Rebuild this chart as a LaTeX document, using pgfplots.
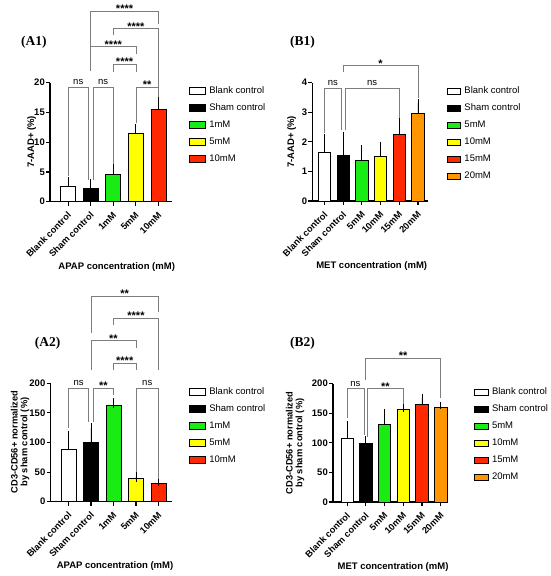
\documentclass[border=0pt]{standalone}
\usepackage{fontspec}
\setmainfont{Liberation Sans}
\newfontfamily\serifb{Liberation Serif}
\usepackage{pgfplots}
\pgfplotsset{compat=1.18}
\definecolor{cgreen}{RGB}{25,235,20}
\definecolor{cyellow}{RGB}{255,255,0}
\definecolor{cred}{RGB}{255,40,0}
\definecolor{corange}{RGB}{255,150,0}
\definecolor{brgray}{RGB}{125,125,125}
\newcommand{\fs}[1]{\fontsize{#1}{#1}\selectfont}
\tikzset{
  st/.style={font=\bfseries\fs{11}, anchor=base, inner sep=0pt, yshift=-1.5pt},
  nsl/.style={font=\fs{9.5}, anchor=base, inner sep=0pt, yshift=2.5pt},
  plab/.style={font=\serifb\bfseries\fs{13.5}, anchor=west, inner sep=0pt},
}
\pgfplotsset{
  panel/.style={
    scale only axis, clip=false,
    axis x line*=bottom, axis y line*=left,
    axis line style={line width=1.3pt},
    every tick/.style={black, line width=1.1pt},
    tick align=outside, major tick length=4pt,
    ymin=0,
    /pgf/number format/assume math mode=true,
    yticklabel style={font=\bfseries\fs{9.5}, inner sep=1pt},
    xticklabel style={yshift=-8pt, xshift=1.5pt, rotate=45, anchor=east, inner sep=0pt, font=\bfseries\fs{9.2}},
    legend cell align=left,
    legend style={at={(1,1)}, anchor=north west, draw=none, fill=none,
      font=\fs{9.5}, row sep=5pt, column sep=2pt,
      nodes={inner sep=1.5pt, text height=7pt, text depth=2pt}},
  },
  bar/.style={ybar, bar shift=0pt, draw=black, line width=0.7pt,
    error bars/y dir=plus, error bars/y explicit,
    error bars/error bar style={line width=0.9pt, black},
    error bars/error mark options={line width=0.9pt, mark size=#1, black}},
  bar/.default=4.7pt,
  br/.style={forget plot, brgray, line width=0.7pt, mark=none},
}
\begin{document}
\begin{tikzpicture}
\useasboundingbox (0pt,0pt) rectangle (550pt,-576pt);

% ---------------- A1 ----------------
\begin{axis}[panel, at={(50pt,-82.7pt)}, anchor=north west,
  width=122pt, height=119pt, xmin=-0.8, xmax=4.6, ymax=20,
  ytick={0,5,10,15,20}, xtick={0,1,2,3,4},
  xticklabels={Blank control, Sham control, 1mM, 5mM, 10mM},
  bar width=15pt, legend style={xshift=14pt},
  legend image code/.code={\draw[#1, line width=0.6pt] (0pt,-3.5pt) rectangle (16pt,3.5pt);},
  legend entries={Blank control, Sham control, 1mM, 5mM, 10mM}]
\addplot[bar, fill=white] coordinates {(0,2.6) +- (0,0.8)};
\addplot[bar, fill=black] coordinates {(1,2.3) +- (0,0.65)};
\addplot[bar, fill=cgreen] coordinates {(2,4.6) +- (0,1.0)};
\addplot[bar, fill=cyellow] coordinates {(3,11.45) +- (0,0.9)};
\addplot[bar, fill=cred] coordinates {(4,15.45) +- (0,1.4)};
\addplot[br] coordinates {(0,4.4) (0,19.2) (0.9,19.2) (0.9,3.7)};
\addplot[br] coordinates {(1.1,3.7) (1.1,19.2) (2,19.2) (2,6.4)};
\addplot[br] coordinates {(3,13.3) (3,19.2) (4,19.2) (4,17.6)};
\addplot[br] coordinates {(2,21.85) (2,23.1) (3,23.1) (3,21.85)};
\addplot[br] coordinates {(1,22.0) (1,26.05) (3,26.05) (3,24.9)};
\addplot[br] coordinates {(2,28.0) (2,29.1) (4,29.1) (4,17.6)};
\addplot[br] coordinates {(1,22.0) (1,32.05) (4,32.05) (4,29.9)};
\node[nsl] at (axis cs:0.45,19.2) {ns};
\node[nsl] at (axis cs:1.55,19.2) {ns};
\node[st] at (axis cs:3.5,19.2) {**};
\node[st] at (axis cs:2.5,23.1) {****};
\node[st] at (axis cs:2,26.05) {****};
\node[st] at (axis cs:3,29.1) {****};
\node[st] at (axis cs:2.5,32.05) {****};
\end{axis}

% ---------------- B1 ----------------
\begin{axis}[panel, at={(312.3pt,-82.7pt)}, anchor=north west,
  width=115.4pt, height=118.3pt, xmin=-0.65, xmax=5.52, ymax=4,
  ytick={0,1,2,3,4}, xtick={0,1,2,3,4,5},
  xticklabels={Blank control, Sham control, 5mM, 10mM, 15mM, 20mM},
  bar width=12.3pt, legend style={xshift=16pt},
  legend image code/.code={\draw[#1, line width=0.6pt] (0pt,-3pt) rectangle (13.5pt,3pt);},
  legend entries={Blank control, Sham control, 5mM, 10mM, 15mM, 20mM}]
\addplot[bar=3.6pt, fill=white] coordinates {(0,1.645) +- (0,0.515)};
\addplot[bar=3.6pt, fill=black] coordinates {(1,1.54) +- (0,0.68)};
\addplot[bar=3.6pt, fill=cgreen] coordinates {(2,1.36) +- (0,0.41)};
\addplot[bar=3.6pt, fill=cyellow] coordinates {(3,1.50) +- (0,0.36)};
\addplot[bar=3.6pt, fill=cred] coordinates {(4,2.24) +- (0,0.43)};
\addplot[bar=3.6pt, fill=corange] coordinates {(5,2.96) +- (0,0.36)};
\addplot[br] coordinates {(0,2.3) (0,3.81) (0.9,3.81) (0.9,2.4)};
\addplot[br] coordinates {(1.1,2.4) (1.1,3.81) (4,3.81) (4,2.79)};
\addplot[br] coordinates {(1,4.37) (1,4.57) (5,4.57) (5,3.47)};
\node[nsl] at (axis cs:0.45,3.81) {ns};
\node[nsl] at (axis cs:2.55,3.81) {ns};
\node[st] at (axis cs:3,4.57) {*};
\end{axis}

% ---------------- A2 ----------------
\begin{axis}[panel, at={(50.5pt,-383.3pt)}, anchor=north west,
  width=121.5pt, height=118.4pt, xmin=-0.8, xmax=4.6, ymax=200,
  ytick={0,50,100,150,200}, xtick={0,1,2,3,4},
  xticklabels={Blank control, Sham control, 1mM, 5mM, 10mM},
  bar width=15pt, legend style={xshift=14pt, yshift=-0.5pt},
  legend image code/.code={\draw[#1, line width=0.6pt] (0pt,-3.5pt) rectangle (16pt,3.5pt);},
  legend entries={Blank control, Sham control, 1mM, 5mM, 10mM}]
\addplot[bar, fill=white] coordinates {(0,88.5) +- (0,23.5)};
\addplot[bar, fill=black] coordinates {(1,99.7) +- (0,24.8)};
\addplot[bar, fill=cgreen] coordinates {(2,162) +- (0,5)};
\addplot[bar, fill=cyellow] coordinates {(3,39) +- (0,3)};
\addplot[bar, fill=cred] coordinates {(4,31) +- (0,3)};
\addplot[br] coordinates {(0,124) (0,192) (0.9,192) (0.9,135)};
\addplot[br] coordinates {(1.1,135) (1.1,192) (2,192) (2,180)};
\addplot[br] coordinates {(3,50.7) (3,192) (4,192) (4,39)};
\addplot[br] coordinates {(2,222) (2,233.8) (3,233.8) (3,222)};
\addplot[br] coordinates {(1,222) (1,272) (3,272) (3,259)};
\addplot[br] coordinates {(2,298) (2,309.8) (4,309.8) (4,222)};
\addplot[br] coordinates {(1,284.8) (1,347.5) (4,347.5) (4,321)};
\node[nsl] at (axis cs:0.45,192) {ns};
\node[st] at (axis cs:1.55,192) {**};
\node[nsl] at (axis cs:3.5,192) {ns};
\node[st] at (axis cs:2.5,233.8) {****};
\node[st] at (axis cs:2,272) {**};
\node[st] at (axis cs:3,309.8) {****};
\node[st] at (axis cs:2.5,347.5) {**};
\end{axis}

% ---------------- B2 ----------------
\begin{axis}[panel, at={(333pt,-383.7pt)}, anchor=north west,
  width=113.7pt, height=118.3pt, xmin=-0.75, xmax=5.32, ymax=200,
  ytick={0,50,100,150,200}, xtick={0,1,2,3,4,5},
  xticklabels={Blank control, Sham control, 5mM, 10mM, 15mM, 20mM},
  bar width=12.3pt, legend style={xshift=24pt},
  legend image code/.code={\draw[#1, line width=0.6pt] (0pt,-3pt) rectangle (14pt,3pt);},
  legend entries={Blank control, Sham control, 5mM, 10mM, 15mM, 20mM}]
\addplot[bar=3.6pt, fill=white] coordinates {(0,108) +- (0,23)};
\addplot[bar=3.6pt, fill=black] coordinates {(1,99.7) +- (0,5.3)};
\addplot[bar=3.6pt, fill=cgreen] coordinates {(2,131) +- (0,20)};
\addplot[bar=3.6pt, fill=cyellow] coordinates {(3,156) +- (0,3)};
\addplot[bar=3.6pt, fill=cred] coordinates {(4,164.5) +- (0,12.5)};
\addplot[bar=3.6pt, fill=corange] coordinates {(5,160) +- (0,3)};
\addplot[br] coordinates {(0,142) (0,191.5) (0.9,191.5) (0.9,112.7)};
\addplot[br] coordinates {(1.1,110) (1.1,191.5) (3,191.5) (3,166)};
\addplot[br] coordinates {(1,206) (1,242.8) (5,242.8) (5,175)};
\node[nsl] at (axis cs:0.45,191.5) {ns};
\node[st] at (axis cs:2.05,191.5) {**};
\node[st] at (axis cs:3,242.8) {**};
\end{axis}

% ---------------- titles and labels ----------------
\node[plab] at (21pt,-42.7pt) {(A1)};
\node[plab] at (290pt,-42.7pt) {(B1)};
\node[plab] at (34.7pt,-343pt) {(A2)};
\node[plab] at (290pt,-343pt) {(B2)};

\node[font=\bfseries\fs{9.5}] at (116.7pt,-266.7pt) {APAP concentration (mM)};
\node[font=\bfseries\fs{9.5}] at (371.7pt,-265.7pt) {MET concentration (mM)};
\node[font=\bfseries\fs{9.5}] at (115pt,-566pt) {APAP concentration (mM)};
\node[font=\bfseries\fs{9.5}] at (393pt,-566.7pt) {MET concentration (mM)};

\node[font=\bfseries\fs{9.5}, rotate=90] at (31.7pt,-142pt) {7-AAD+ (\%)};
\node[font=\bfseries\fs{9.5}, rotate=90] at (291.7pt,-142pt) {7-AAD+ (\%)};
\node[font=\bfseries\fs{9.3}, rotate=90, align=center, inner sep=0pt] at (20pt,-442pt) {CD3-CD56+ normalized\\[0.5pt]by sham control (\%)};
\node[font=\bfseries\fs{9.3}, rotate=90, align=center, inner sep=0pt] at (295pt,-443pt) {CD3-CD56+ normalized\\[0.5pt]by sham control (\%)};
\end{tikzpicture}
\end{document}
